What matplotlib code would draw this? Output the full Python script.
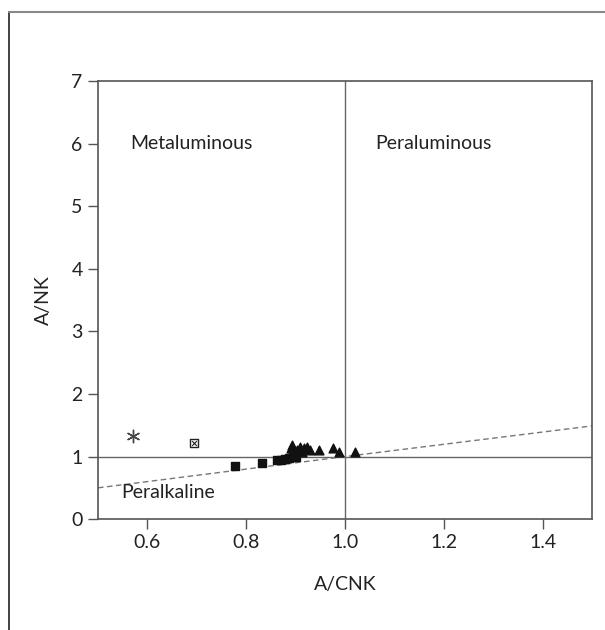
import numpy as np
import matplotlib
matplotlib.use("Agg")
import matplotlib.pyplot as plt
from matplotlib.lines import Line2D

plt.rcParams['font.family'] = ['Lato', 'DejaVu Sans']

# sample groups, A/CNK vs A/NK
star_x = [0.571]
star_y = [1.33]
boxx_x = [0.695]
boxx_y = [1.21]
sq_x = [0.777, 0.831, 0.862, 0.870, 0.878, 0.886, 0.894, 0.900]
sq_y = [0.85, 0.90, 0.94, 0.94, 0.96, 0.97, 0.99, 1.00]
tri_x = [0.891, 0.893, 0.903, 0.909, 0.913, 0.917, 0.923, 0.929, 0.948, 0.976, 0.988, 1.020]
tri_y = [1.13, 1.18, 1.10, 1.15, 1.08, 1.13, 1.15, 1.11, 1.10, 1.13, 1.08, 1.08]

# Shand index boundary line
bound_x = [0.5, 1.0, 1.5]
bound_y = [0.5, 1.0, 1.49]

fig = plt.figure(figsize=(6.05, 6.3), dpi=100)
ax = fig.add_axes([0.162, 0.176, 0.8165, 0.695])

# frame around the figure
fig.add_artist(Line2D([0.0149, 0.0149], [0.0, 0.981], transform=fig.transFigure, color='#222222', lw=1.2))
fig.add_artist(Line2D([0.0149, 1.0], [0.981, 0.981], transform=fig.transFigure, color='#888888', lw=1.5))

ax.axhline(1.0, color='#666666', lw=1.0, zorder=1)
ax.axvline(1.0, color='#666666', lw=1.0, zorder=1)
ax.plot(bound_x, bound_y, ls=(0, (4, 2.5)), color='#777777', lw=1.0, zorder=1)

ax.scatter(sq_x, sq_y, marker='s', s=30, color='#111111', zorder=3)
ax.scatter(tri_x, tri_y, marker='^', s=40, color='#111111', zorder=3)
ax.scatter(star_x, star_y, marker=(6, 2, 0), s=80, color='#444444', lw=1.0, zorder=3)
ax.scatter(boxx_x, boxx_y, marker='s', s=40, facecolor='white', edgecolor='#222222', lw=1.0, zorder=3)
ax.scatter(boxx_x, boxx_y, marker='x', s=12, color='#222222', lw=0.8, zorder=4)

fs = 14
ax.text(0.565, 6.0, 'Metaluminous', fontsize=fs, color='#222222', va='center')
ax.text(1.061, 6.0, 'Peraluminous', fontsize=fs, color='#222222', va='center')
ax.text(0.548, 0.43, 'Peralkaline', fontsize=fs, color='#222222', va='center')

ax.set_xlim(0.5, 1.5)
ax.set_ylim(0, 7)
ax.set_xticks([0.6, 0.8, 1.0, 1.2, 1.4])
ax.set_xticklabels(['0.6', '0.8', '1.0', '1.2', '1.4'])
ax.set_yticks(range(8))

for s in ax.spines.values():
    s.set_color('#555555')
    s.set_linewidth(1.2)
ax.tick_params(direction='out', length=7, width=1.0, color='#555555',
               labelsize=fs, labelcolor='#222222', pad=4)

ax.set_xlabel('A/CNK', fontsize=fs, color='#222222', labelpad=18)
ax.set_ylabel('A/NK', fontsize=fs, color='#222222', labelpad=14)

fig.savefig('out.png', dpi=100)
